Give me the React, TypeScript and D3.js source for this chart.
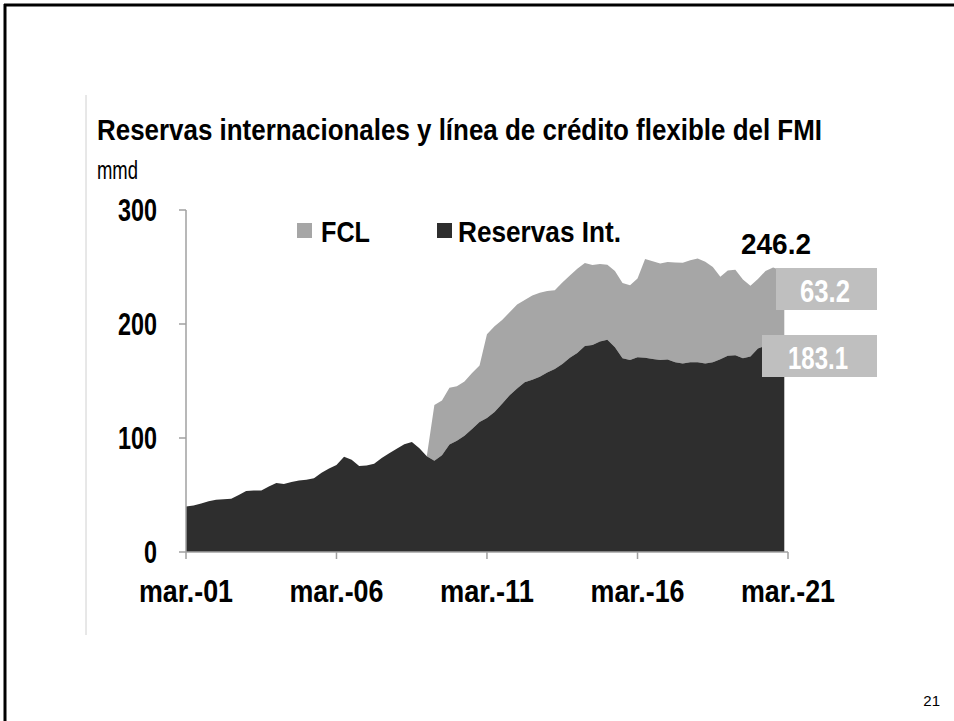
import React from 'react';
import * as d3 from 'd3';

const title = 'Reservas internacionales y línea de crédito flexible del FMI';
const unitLabel = 'mmd';
const seriesNames = ['FCL', 'Reservas Int.'];
const yTicks = [0, 100, 200, 300];
const xTickLabels = ['mar.-01', 'mar.-06', 'mar.-11', 'mar.-16', 'mar.-21'];
const xTickYears = [2001, 2006, 2011, 2016, 2021];
const totalLabel = '246.2';
const fclLabel = '63.2';
const resLabel = '183.1';
const pageNumber = '21';

// quarterly, mar-01 .. (last obs ~ jan-21), billions USD
const reserves = [
  40, 40.8, 42.5, 44.5, 45.8, 46.2, 46.8, 50, 53.6, 54,
  54, 57.5, 60.6, 59.7, 61.5, 62.7, 63.3, 64.8, 69.5, 73.2,
  76.3, 83.6, 81, 75.4, 75.8, 77.5, 82.5, 86.6, 90.5, 94.5,
  96.6, 91, 84, 80, 84.8, 94.2, 97.5, 102, 108, 114,
  117.5, 122.8, 130, 137.4, 143.5, 149, 151, 153.8, 157.5, 160.5,
  165, 170.5, 174.5, 180.6, 181.6, 184.7, 186.2, 179.5, 170, 168.5,
  170.8, 170.5, 169.3, 168.5, 168.9, 166.5, 165.3, 166.5, 166.5, 165.3,
  166.4, 169, 172.2, 172.5, 170, 171.5, 178.5, 181, 182, 183.1,
];
const fcl = [
  0, 0, 0, 0, 0, 0, 0, 0, 0, 0,
  0, 0, 0, 0, 0, 0, 0, 0, 0, 0,
  0, 0, 0, 0, 0, 0, 0, 0, 0, 0,
  0, 0, 0, 49, 48.2, 49.8, 48, 47.5, 49, 49.5,
  73.5, 75.2, 73.5, 73, 73.5, 72, 74, 73.7, 71.5, 69,
  71.5, 72, 74, 72.9, 70.2, 67.9, 65.8, 67, 66, 65.5,
  69.2, 86.5, 85.7, 84.5, 85.5, 87.5, 88.5, 89.5, 91, 89.2,
  83.6, 72.5, 74.8, 75, 69, 62, 61, 65.5, 67.5, 63.1,
];

const FONT = "'Liberation Sans Narrow','Liberation Sans',Arial,sans-serif";
const DARK = '#2e2e2e';
const MID = '#a6a6a6';
const BOX = '#bfbfbf';
const AXIS = '#a0a0a0';

type P = { d: Date; r: number; f: number };

export default function App() {
  const W = 954;
  const H = 721;
  const start = new Date(2001, 2, 1);
  const x = d3.scaleTime().domain([start, new Date(2021, 2, 1)]).range([186, 788]);
  const y = d3.scaleLinear().domain([0, 300]).range([552, 210]);

  const data: P[] = reserves.map((r, i) => ({
    d: i === reserves.length - 1 ? new Date(2021, 0, 15) : d3.timeMonth.offset(start, 3 * i),
    r,
    f: fcl[i],
  }));

  const resArea = d3
    .area<P>()
    .x((p) => x(p.d))
    .y0(y(0))
    .y1((p) => y(p.r));
  const fclArea = d3
    .area<P>()
    .x((p) => x(p.d))
    .y0((p) => y(p.r))
    .y1((p) => y(p.r + p.f));

  const xTicks = xTickYears.map((yr) => new Date(yr, 2, 1));

  return (
    <svg
      width={W}
      height={H}
      style={{ position: 'absolute', left: 0, top: 0, background: '#fff' }}
      fontFamily={FONT}
    >
      <rect x={0} y={0} width={W} height={H} fill="#fff" />
      {/* slide frame */}
      <line x1={4} x2={W} y1={5} y2={5} stroke="#000" strokeWidth={3} />
      <line x1={5} x2={5} y1={4} y2={H} stroke="#000" strokeWidth={3} />
      <line x1={86} x2={86} y1={95} y2={635} stroke="#d0d0d0" strokeWidth={1} />

      <text x={97} y={140} fontSize={30} fontWeight="bold" textLength={725} lengthAdjust="spacingAndGlyphs">
        {title}
      </text>
      <text x={97} y={179} fontSize={25} textLength={41} lengthAdjust="spacingAndGlyphs">
        {unitLabel}
      </text>

      {/* areas */}
      <path d={fclArea(data) || ''} fill={MID} />
      <path d={resArea(data) || ''} fill={DARK} />

      {/* y axis */}
      <line x1={186} x2={186} y1={y(300)} y2={y(0)} stroke={AXIS} strokeWidth={1.5} />
      {yTicks.map((t) => (
        <g key={t}>
          <line x1={179} x2={186} y1={y(t)} y2={y(t)} stroke={AXIS} strokeWidth={1.5} />
          <text
            x={157}
            y={y(t) + 11}
            fontSize={31}
            fontWeight="bold"
            textAnchor="end"
            textLength={String(t).length * 13}
            lengthAdjust="spacingAndGlyphs"
          >
            {t}
          </text>
        </g>
      ))}

      {/* x axis */}
      <line x1={x(xTicks[0])} x2={x(xTicks[xTicks.length - 1])} y1={y(0)} y2={y(0)} stroke={AXIS} strokeWidth={1.5} />
      {xTicks.map((t, i) => (
        <g key={i}>
          <line x1={x(t)} x2={x(t)} y1={y(0)} y2={y(0) + 7} stroke={AXIS} strokeWidth={1.5} />
          <text
            x={x(t)}
            y={602}
            fontSize={31}
            fontWeight="bold"
            textAnchor="middle"
            textLength={94}
            lengthAdjust="spacingAndGlyphs"
          >
            {xTickLabels[i]}
          </text>
        </g>
      ))}

      {/* legend */}
      <rect x={297} y={223} width={15} height={15} fill={MID} />
      <text x={321} y={242} fontSize={30} fontWeight="bold" textLength={49} lengthAdjust="spacingAndGlyphs">
        {seriesNames[0]}
      </text>
      <rect x={437} y={223} width={15} height={15} fill={DARK} />
      <text x={458} y={242} fontSize={30} fontWeight="bold" textLength={163} lengthAdjust="spacingAndGlyphs">
        {seriesNames[1]}
      </text>

      {/* end labels */}
      <text x={776} y={254} fontSize={30} fontWeight="bold" textAnchor="middle" textLength={70} lengthAdjust="spacingAndGlyphs">
        {totalLabel}
      </text>
      <rect x={776} y={268} width={101} height={42} fill={BOX} />
      <text x={825} y={302} fontSize={31} fontWeight="bold" fill="#fff" textAnchor="middle" textLength={50} lengthAdjust="spacingAndGlyphs">
        {fclLabel}
      </text>
      <rect x={762} y={335} width={115} height={42} fill={BOX} />
      <text x={818} y={369} fontSize={31} fontWeight="bold" fill="#fff" textAnchor="middle" textLength={60} lengthAdjust="spacingAndGlyphs">
        {resLabel}
      </text>

      <text x={940} y={706} fontSize={15} textAnchor="end" fontFamily="'Liberation Sans',Arial,sans-serif">
        {pageNumber}
      </text>
    </svg>
  );
}
